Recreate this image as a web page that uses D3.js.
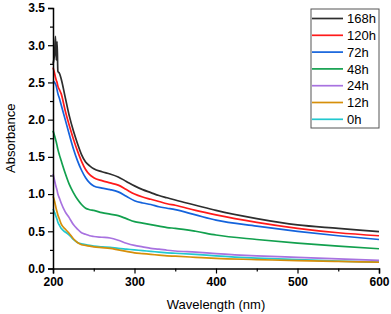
<!DOCTYPE html>
<html>
<head>
<meta charset="utf-8">
<script src="https://cdn.jsdelivr.net/npm/d3@7"></script>
<style>
  body { margin: 0; background: #fff; }
  svg { font-family: "Liberation Sans", Arial, sans-serif; }
</style>
</head>
<body>
<div id="chart"></div>
<script>
  /**
   * DATA
   * */
  const wavelengths = [200,202,203,204,205,206,208,210,215,220,225,230,235,240,245,250,260,270,280,290,300,310,320,330,340,350,375,400,450,500,550,600];

  const abs168 = [2.75,2.90,3.12,2.80,3.05,2.65,2.62,2.55,2.30,2.05,1.85,1.68,1.53,1.43,1.38,1.34,1.30,1.27,1.23,1.17,1.11,1.06,1.02,0.98,0.95,0.92,0.85,0.78,0.67,0.585,0.54,0.495];
  const abs120 = [2.70,2.62,2.57,2.53,2.50,2.45,2.40,2.35,2.12,1.92,1.74,1.58,1.44,1.33,1.26,1.22,1.18,1.15,1.12,1.06,1.00,0.96,0.93,0.90,0.87,0.85,0.78,0.72,0.62,0.54,0.48,0.44];
  const abs72  = [2.52,2.50,2.48,2.45,2.40,2.35,2.28,2.20,2.00,1.80,1.61,1.45,1.32,1.22,1.15,1.11,1.08,1.06,1.03,0.97,0.91,0.88,0.86,0.83,0.81,0.79,0.72,0.65,0.57,0.50,0.44,0.39];
  const abs48  = [1.85,1.78,1.74,1.70,1.65,1.60,1.52,1.45,1.28,1.13,1.02,0.93,0.86,0.81,0.79,0.78,0.75,0.73,0.71,0.67,0.63,0.61,0.59,0.57,0.55,0.54,0.50,0.45,0.39,0.34,0.30,0.265];
  const abs24  = [1.27,1.18,1.13,1.09,1.05,1.00,0.94,0.88,0.76,0.68,0.59,0.53,0.48,0.46,0.44,0.43,0.42,0.41,0.38,0.34,0.31,0.29,0.27,0.26,0.245,0.235,0.22,0.20,0.17,0.15,0.13,0.11];
  const abs12  = [0.97,0.90,0.85,0.80,0.76,0.72,0.66,0.60,0.53,0.47,0.40,0.35,0.32,0.31,0.30,0.29,0.28,0.27,0.25,0.23,0.21,0.20,0.19,0.18,0.17,0.165,0.15,0.135,0.12,0.105,0.095,0.085];
  const abs0   = [0.80,0.75,0.72,0.69,0.66,0.62,0.58,0.54,0.49,0.45,0.39,0.35,0.33,0.32,0.31,0.30,0.29,0.285,0.27,0.26,0.25,0.24,0.23,0.22,0.21,0.205,0.19,0.17,0.14,0.12,0.10,0.085];

  const seriesNames = ["168h","120h","72h","48h","24h","12h","0h"];
  const seriesValues = [abs168, abs120, abs72, abs48, abs24, abs12, abs0];
  const seriesColors = ["#2e2e2e","#ff1a1a","#1463dc","#12a04e","#a872e0","#d68f0a","#22c8cf"];

  const xTicks = [200,300,400,500,600];
  const yTicks = [0,0.5,1.0,1.5,2.0,2.5,3.0,3.5];

  /**
   * CONSTANTS
   * */
  const width = 391, height = 314;
  const margin = { top: 8, right: 12, bottom: 45.5, left: 53 };

  const svg = d3.select("#chart").append("svg")
    .attr("width", width)
    .attr("height", height);

  const xScale = d3.scaleLinear()
    .domain([200, 600])
    .range([margin.left, width - margin.right]);

  const yScale = d3.scaleLinear()
    .domain([0, 3.5])
    .range([height - margin.bottom, margin.top]);

  // minor ticks first so the major axis sits on top
  svg.append("g")
    .attr("transform", `translate(0,${height - margin.bottom})`)
    .call(d3.axisBottom(xScale).tickValues(d3.range(250, 600, 100)).tickSize(3).tickFormat(""))
    .call(g => g.select(".domain").remove())
    .selectAll("line").attr("stroke-width", 1.2);

  svg.append("g")
    .attr("transform", `translate(${margin.left},0)`)
    .call(d3.axisLeft(yScale).tickValues(d3.range(0.25, 3.5, 0.5)).tickSize(3).tickFormat(""))
    .call(g => g.select(".domain").remove())
    .selectAll("line").attr("stroke-width", 1.2);

  // lines, 0h drawn first so 168h ends up on top
  const line = d3.line()
    .x((d, i) => xScale(wavelengths[i]))
    .y(d => yScale(d))
    .curve(d3.curveMonotoneX);

  const order = d3.range(seriesNames.length).reverse();
  svg.append("g")
    .selectAll("path")
    .data(order)
    .join("path")
    .attr("fill", "none")
    .attr("stroke", i => seriesColors[i])
    .attr("stroke-width", 1.7)
    .attr("stroke-linejoin", "round")
    .attr("d", i => line(seriesValues[i]));

  const xAxis = svg.append("g")
    .attr("transform", `translate(0,${height - margin.bottom})`)
    .call(d3.axisBottom(xScale).tickValues(xTicks).tickSize(5).tickPadding(4).tickFormat(d3.format("d")));

  const yAxis = svg.append("g")
    .attr("transform", `translate(${margin.left},0)`)
    .call(d3.axisLeft(yScale).tickValues(yTicks).tickSize(5).tickPadding(3).tickFormat(d3.format(".1f")));

  [xAxis, yAxis].forEach(g => {
    g.select(".domain").attr("stroke-width", 1.5).attr("stroke", "#000");
    g.selectAll(".tick line").attr("stroke-width", 1.2);
    g.selectAll(".tick text")
      .attr("fill", "#000")
      .style("font-size", "12px")
      .style("font-weight", "bold")
      .style("font-family", "'Liberation Sans', Arial, sans-serif");
  });

  // axis titles
  svg.append("text")
    .attr("x", (margin.left + width - margin.right) / 2)
    .attr("y", 309)
    .attr("text-anchor", "middle")
    .style("font-size", "13px")
    .text("Wavelength (nm)");

  svg.append("text")
    .attr("transform", `translate(15,${(margin.top + height - margin.bottom) / 2}) rotate(-90)`)
    .attr("text-anchor", "middle")
    .style("font-size", "13px")
    .text("Absorbance");

  // legend
  const legend = svg.append("g").attr("transform", "translate(311,9)");
  legend.append("rect")
    .attr("width", 68)
    .attr("height", 119)
    .attr("fill", "#fff")
    .attr("stroke", "#555")
    .attr("stroke-width", 1);

  const rows = legend.selectAll("g.row")
    .data(seriesNames)
    .join("g")
    .attr("class", "row")
    .attr("transform", (d, i) => `translate(0,${9.5 + i * 16.8})`);

  rows.append("line")
    .attr("x1", 1).attr("x2", 32)
    .attr("stroke", (d, i) => seriesColors[i])
    .attr("stroke-width", 1.7);

  rows.append("text")
    .attr("x", 36)
    .attr("dy", "0.36em")
    .style("font-size", "13px")
    .text(d => d);
</script>
</body>
</html>
